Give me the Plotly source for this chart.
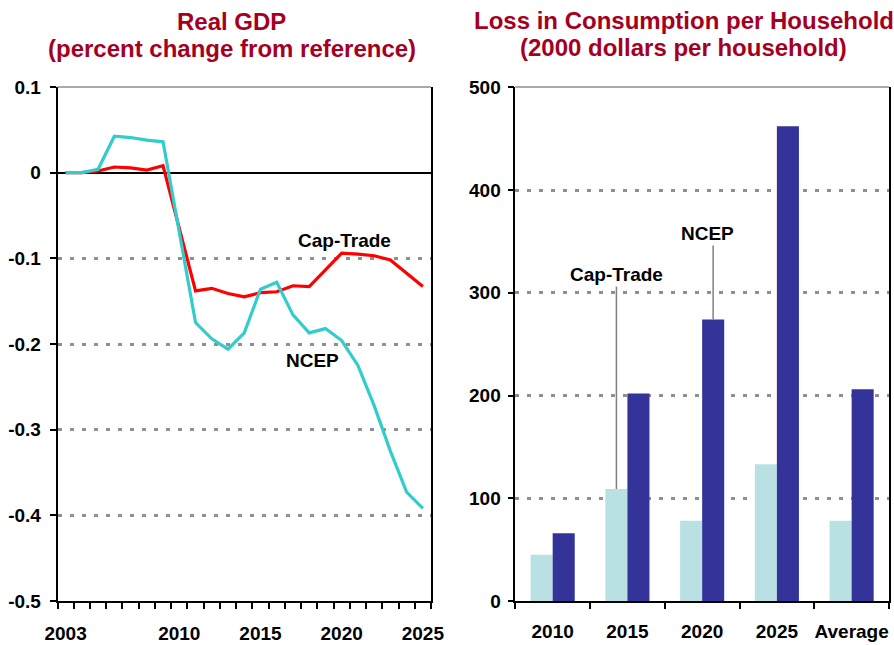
import plotly.graph_objects as go
from plotly.subplots import make_subplots

# ---------------- data ----------------
years = list(range(2003, 2026))
gdp_cap_trade = [0, 0, 0.002, 0.0066, 0.0055, 0.003, 0.008, -0.065, -0.138, -0.135,
                 -0.141, -0.145, -0.140, -0.139, -0.132, -0.133, -0.113, -0.094,
                 -0.095, -0.097, -0.102, -0.118, -0.133]
gdp_ncep = [0, 0, 0.004, 0.0426, 0.041, 0.038, 0.036, -0.070, -0.175, -0.194,
            -0.206, -0.187, -0.136, -0.128, -0.166, -0.187, -0.182, -0.196,
            -0.225, -0.272, -0.325, -0.373, -0.392]
gdp_tick_years = [2003, 2010, 2015, 2020, 2025]
gdp_tick_vals = [-0.5, -0.4, -0.3, -0.2, -0.1, 0, 0.1]
gdp_tick_text = ["-0.5", "-0.4", "-0.3", "-0.2", "-0.1", "0", "0.1"]

loss_categories = ["2010", "2015", "2020", "2025", "Average"]
loss_cap_trade = [45, 109, 78, 133, 78]
loss_ncep = [66, 202, 274, 462, 206]
loss_tick_vals = [0, 100, 200, 300, 400, 500]

# ---------------- style ----------------
FONT = "Liberation Sans, Arial, sans-serif"
TITLE_COLOR = "#A50021"
RED = "#FF0000"
CYAN = "#33CCCC"
LIGHT = "#B9E0E3"
DARK = "#333399"
GRID = "#8F8F8F"
W, H = 894, 645

def px_x(p):
    return p / W

def px_y(p):
    return 1 - p / H

fig = make_subplots(rows=1, cols=2)

fig.add_trace(go.Scatter(x=years, y=gdp_cap_trade, mode="lines", name="Cap-Trade",
                         line=dict(color=RED, width=3.2)), row=1, col=1)
fig.add_trace(go.Scatter(x=years, y=gdp_ncep, mode="lines", name="NCEP",
                         line=dict(color=CYAN, width=3.2)), row=1, col=1)

fig.add_trace(go.Bar(x=loss_categories, y=loss_cap_trade, name="Cap-Trade",
                     marker=dict(color=LIGHT, line=dict(width=0))), row=1, col=2)
fig.add_trace(go.Bar(x=loss_categories, y=loss_ncep, name="NCEP",
                     marker=dict(color=DARK, line=dict(width=0))), row=1, col=2)

tickfont = dict(family=FONT, size=19, color="black", weight="bold")

# left panel axes
fig.update_xaxes(
    domain=[px_x(57.5), px_x(431)],
    range=[years[0] - 0.5, years[-1] + 0.5],
    tickvals=gdp_tick_years, ticktext=[str(y) for y in gdp_tick_years],
    ticks="", showgrid=False, zeroline=False, automargin=False, tickangle=0,
    showline=True, linecolor="black", linewidth=1.5,
    tickfont=tickfont, ticklabelstandoff=14,
    minor=dict(ticks="outside", ticklen=6, tickcolor="black", tickwidth=1.5,
               tick0=years[0] - 0.5, dtick=1, showgrid=False),
    row=1, col=1)
fig.update_yaxes(
    domain=[px_y(601), px_y(87)],
    range=[-0.5, 0.1], automargin=False,
    tickvals=gdp_tick_vals, ticktext=gdp_tick_text,
    ticks="outside", ticklen=6, tickcolor="black", tickwidth=1.5,
    showgrid=True, gridcolor=GRID, gridwidth=3, griddash="4px,8px",
    zeroline=True, zerolinecolor="black", zerolinewidth=1.5,
    showline=True, linecolor="black", linewidth=1.5, mirror=True,
    tickfont=tickfont, ticklabelstandoff=5,
    row=1, col=1)

# right panel axes
fig.update_xaxes(
    domain=[px_x(515.3), px_x(889)],
    type="category", tickson="boundaries", automargin=False, tickangle=0,
    ticks="outside", ticklen=6, tickcolor="black", tickwidth=1.5,
    showgrid=False, zeroline=False,
    showline=True, linecolor="black", linewidth=1.5,
    tickfont=tickfont, ticklabelstandoff=12,
    row=1, col=2)
fig.update_yaxes(
    domain=[px_y(601), px_y(87.3)], automargin=False,
    range=[0, 500], tickvals=loss_tick_vals,
    ticks="outside", ticklen=6, tickcolor="black", tickwidth=1.5,
    showgrid=True, gridcolor=GRID, gridwidth=3, griddash="4px,8px",
    zeroline=False,
    showline=True, linecolor="black", linewidth=1.5, mirror=True,
    tickfont=tickfont, ticklabelstandoff=3,
    row=1, col=2)

# top border lines (thin gray)
for x0, x1 in [(57.5, 431), (515.3, 889)]:
    fig.add_shape(type="line", xref="paper", yref="paper",
                  x0=px_x(x0), x1=px_x(x1), y0=px_y(87), y1=px_y(87),
                  line=dict(color="#555555", width=1))

ann_font = dict(family=FONT, size=19, color="black", weight="bold")
title_font = dict(family=FONT, size=24, color=TITLE_COLOR, weight="bold")

annotations = [
    dict(text="Real GDP", x=px_x(232), y=px_y(21)),
    dict(text="(percent change from reference)", x=px_x(232), y=px_y(48)),
    dict(text="Loss in Consumption per Household", x=px_x(683.7), y=px_y(20)),
    dict(text="(2000 dollars per household)", x=px_x(683.7), y=px_y(47)),
]
for a in annotations:
    fig.add_annotation(xref="paper", yref="paper", showarrow=False,
                       xanchor="center", yanchor="middle", font=title_font, **a)

# left panel labels
fig.add_annotation(x=2020.2, y=-0.079, xref="x", yref="y", text="Cap-Trade",
                   showarrow=False, font=ann_font)
fig.add_annotation(x=2018.2, y=-0.219, xref="x", yref="y", text="NCEP",
                   showarrow=False, font=ann_font)

# right panel labels with leader lines to bars
bar_half = 0.147
ct_idx = 1   # 2015
nc_idx = 2   # 2020
fig.add_shape(type="line", xref="x2", yref="y2",
              x0=ct_idx - bar_half, x1=ct_idx - bar_half,
              y0=loss_cap_trade[ct_idx], y1=306,
              line=dict(color="#808080", width=1.5))
fig.add_annotation(x=ct_idx - bar_half, y=318, xref="x2", yref="y2",
                   text="Cap-Trade", showarrow=False, font=ann_font)
fig.add_shape(type="line", xref="x2", yref="y2",
              x0=nc_idx + bar_half, x1=nc_idx + bar_half,
              y0=loss_ncep[nc_idx], y1=346,
              line=dict(color="#808080", width=1.5))
fig.add_annotation(x=nc_idx + 0.076, y=358, xref="x2", yref="y2",
                   text="NCEP", showarrow=False, font=ann_font)

fig.update_layout(
    width=W, height=H,
    margin=dict(l=0, r=0, t=0, b=0, autoexpand=False),
    paper_bgcolor="white", plot_bgcolor="white",
    showlegend=False,
    barmode="group", bargap=0.41, bargroupgap=0,
    font=dict(family=FONT),
)

fig.write_html(
    "out.html",
    config={"displayModeBar": False},
    post_script="document.body.style.margin='0';document.body.style.overflow='hidden';",
)
